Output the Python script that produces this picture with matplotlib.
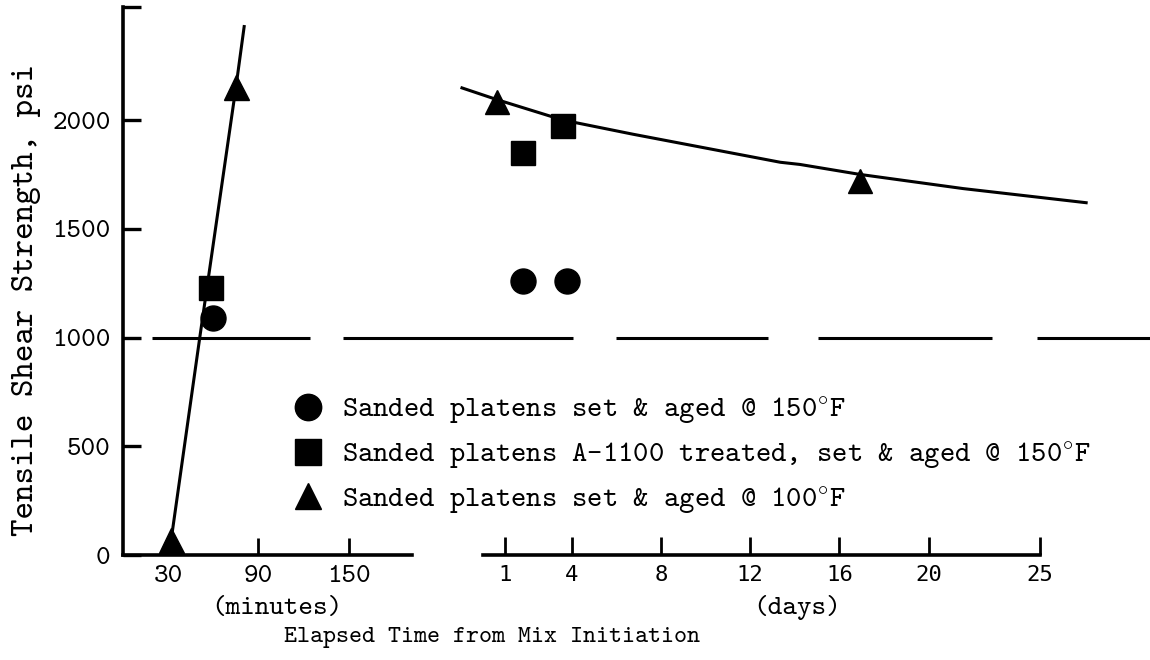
import matplotlib
matplotlib.use("Agg")
import matplotlib.pyplot as plt

plt.rcParams["mathtext.fontset"] = "cm"

# ---------------- data ----------------
psi_ticks = [0, 500, 1000, 1500, 2000]
psi_top = 2520
min_ticks = [30, 90, 150]
day_ticks = [1, 4, 8, 12, 16, 20, 25]

# minutes section
circle_min_x = [59.5]
circle_min_y = [1090]
square_min_x = [58.5]
square_min_y = [1227]
triangle_min_x = [32, 75]
triangle_min_y = [70, 2150]
fit_min_x = [32, 51, 75, 80.5]
fit_min_y = [70, 1000, 2150, 2430]

# days section
circle_day_x = [1.81, 3.78]
circle_day_y = [1259, 1259]
square_day_x = [1.81, 3.6]
square_day_y = [1847, 1972]
triangle_day_x = [0.64, 16.93]
triangle_day_y = [2083, 1722]
fit_day_x = [-0.93, 0.64, 3.6, 6.74, 13.35, 14.23, 16.93, 21.55, 27.07]
fit_day_y = [2148, 2094, 2000, 1935, 1806, 1796, 1750, 1685, 1620]

# 1000 psi reference (hand-drawn broken line), in day units
ref_psi = 1000
ref_starts = [-14.84, -6.27, 5.98, 15.04, 24.87]
ref_ends = [-7.75, 4.05, 12.80, 22.85, 30.0]

legend_labels = [
    r"Sanded platens set & aged @ 150$^{\circ}$F",
    r"Sanded platens A-1100 treated, set & aged @ 150$^{\circ}$F",
    r"Sanded platens set & aged @ 100$^{\circ}$F",
]

# ---------------- style ----------------
TT = ["cmtt10", "DejaVu Sans Mono"]
FS = 20
W, H = 1150, 660
fig = plt.figure(figsize=(W / 100, H / 100), dpi=100)
fig.patch.set_facecolor("white")

def fx(px):
    return px / W

def fy(py):
    return 1 - py / H

ax1 = fig.add_axes([fx(123), fy(555), fx(412 - 123), (555 - 7) / H])
ax2 = fig.add_axes([fx(482.7), fy(555), fx(1040 - 482.7), (555 - 7) / H], sharey=ax1)

for ax in (ax1, ax2):
    ax.set_facecolor("none")
    for s in ("top", "right"):
        ax.spines[s].set_visible(False)
    ax.spines["bottom"].set_linewidth(2.6)
    ax.spines["left"].set_linewidth(2.6)
ax2.spines["left"].set_visible(False)

ax1.set_ylim(0, psi_top)
ax1.set_xlim(0, 192)
ax2.set_xlim(0, 25)

ms = dict(color="black", linestyle="none")
lw = 2.2

# minutes panel
ax1.plot(fit_min_x, fit_min_y, color="black", lw=lw, clip_on=False, zorder=2)
ax1.plot(circle_min_x, circle_min_y, marker="o", markersize=18, **ms, zorder=3)
ax1.plot(square_min_x, square_min_y, marker="s", markersize=17, **ms, zorder=3)
ax1.plot(triangle_min_x, triangle_min_y, marker="^", markersize=18, clip_on=False, **ms, zorder=3)

# days panel
ax2.plot(fit_day_x, fit_day_y, color="black", lw=lw, clip_on=False, zorder=2)
h1, = ax2.plot(circle_day_x, circle_day_y, marker="o", markersize=18, **ms, zorder=3)
h2, = ax2.plot(square_day_x, square_day_y, marker="s", markersize=17, **ms, zorder=3)
h3, = ax2.plot(triangle_day_x, triangle_day_y, marker="^", markersize=17, **ms, zorder=3)

ax2.hlines([ref_psi] * len(ref_starts), ref_starts, ref_ends, color="black",
           lw=2.2, clip_on=False, zorder=1)

# ticks
ax1.set_yticks(psi_ticks + [psi_top])
ax1.set_yticklabels([str(v) for v in psi_ticks] + [""], family=TT, fontsize=FS)
ax1.tick_params(axis="y", direction="in", length=13, width=2.4, pad=9)
ax1.set_xticks(min_ticks)
ax1.set_xticklabels([str(v) for v in min_ticks], family=TT, fontsize=FS)
ax1.tick_params(axis="x", direction="in", length=12, width=2.0, pad=7)

ax2.set_xticks(day_ticks)
ax2.set_xticklabels([str(v) for v in day_ticks], family="DejaVu Sans Mono", fontsize=16)
ax2.tick_params(axis="x", direction="in", length=13, width=2.0, pad=7)
ax2.tick_params(axis="y", left=False, labelleft=False)

fig.text(fx(27), fy(300), "Tensile Shear Strength, psi", family=TT, fontsize=24,
         rotation=90, ha="center", va="center")

fig.text(fx(277), fy(608), "(minutes)", family=TT, fontsize=FS, ha="center", va="center")
fig.text(fx(797), fy(608), "(days)", family=TT, fontsize=FS, ha="center", va="center")
fig.text(fx(492), fy(638), "Elapsed Time from Mix Initiation", family=TT, fontsize=17.8,
         ha="center", va="center")

leg = fig.legend([h1, h2, h3], legend_labels, loc="upper left",
                 bbox_to_anchor=(fx(295), fy(395)), frameon=False,
                 prop=dict(family=TT, size=21), handlelength=0.9,
                 handletextpad=0.7, labelspacing=0.46, borderpad=0,
                 borderaxespad=0, markerscale=1.0)
for hh in leg.legend_handles:
    hh.set_markersize(19)

fig.savefig("out.png", dpi=100, facecolor="white")
